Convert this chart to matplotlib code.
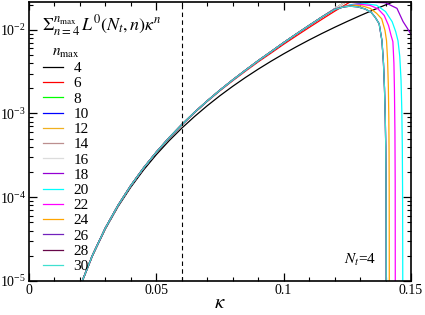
import matplotlib
matplotlib.use('Agg')
import matplotlib.pyplot as plt
from matplotlib.ticker import LogLocator, MultipleLocator, FixedLocator, FixedFormatter

plt.rcParams['font.family'] = 'serif'
plt.rcParams['font.serif'] = ['Liberation Serif', 'DejaVu Serif']
plt.rcParams['mathtext.fontset'] = 'stix'

# truncation orders and their colours (xmgrace palette)
nmax_list = [4, 6, 8, 10, 12, 14, 16, 18, 20, 22, 24, 26, 28, 30]
colors = ['#000000', '#ff0000', '#00ff00', '#0000ff', '#f0b020', '#bc8f8f',
          '#dcdcdc', '#9400d3', '#00ffff', '#ff00ff', '#ffa500', '#7221bc',
          '#670748', '#40e0d0']

# nmax = 4 (single term)
black_k = [0.021, 0.025, 0.03, 0.035, 0.04, 0.045, 0.05, 0.055, 0.06, 0.065, 0.07,
           0.075, 0.08, 0.085, 0.09, 0.095, 0.10, 0.105, 0.11, 0.115, 0.12, 0.125,
           0.13, 0.135, 0.14, 0.145]
black_v = [1.00e-5, 2.01e-5, 4.17e-5, 7.73e-5, 1.318e-4, 2.112e-4, 3.219e-4, 4.713e-4,
           6.674e-4, 9.19e-4, 1.2365e-3, 1.63e-3, 2.109e-3, 2.688e-3, 3.379e-3, 4.195e-3,
           5.15e-3, 6.26e-3, 7.54e-3, 9.01e-3, 0.01068, 0.01257, 0.01471, 0.01710,
           0.01978, 0.02277]

# common rising part (nmax >= 8)
rise_k = [0.021, 0.025, 0.03, 0.035, 0.04, 0.045, 0.05, 0.055, 0.06, 0.065, 0.07,
          0.075, 0.08, 0.085, 0.09, 0.095, 0.10, 0.105, 0.11, 0.115]
bundle_v = [1.01e-5, 2.04e-5, 4.28e-5, 8.0e-5, 1.378e-4, 2.232e-4, 3.444e-4, 5.11e-4,
            7.34e-4, 1.030e-3, 1.41e-3, 1.898e-3, 2.51e-3, 3.28e-3, 4.26e-3, 5.45e-3,
            7.0e-3, 8.89e-3, 0.01123, 0.01414]
# nmax = 6
red_v = [1.01e-5, 2.04e-5, 4.27e-5, 7.98e-5, 1.375e-4, 2.225e-4, 3.43e-4, 5.08e-4,
         7.28e-4, 1.02e-3, 1.393e-3, 1.87e-3, 2.46e-3, 3.20e-3, 4.13e-3, 5.25e-3,
         6.70e-3, 8.45e-3, 0.01063, 0.0133]
red_tail_k = [0.12, 0.125, 0.128]
red_tail_v = [0.0166, 0.0205, 0.0232]

# nmax = 8..16 leave through the top
exit_k = [0.12, 0.1235, 0.127, 0.131]
exit_v = [0.01773, 0.0208, 0.0240, 0.0275]

# nmax = 18
k18 = [0.12, 0.127, 0.134, 0.140, 0.1445, 0.1469, 0.1485, 0.150]
v18 = [0.0177, 0.0200, 0.0213, 0.0210, 0.0180, 0.0125, 0.0105, 0.0088]
# nmax = 20
k20 = [0.12, 0.126, 0.132, 0.1365, 0.140, 0.1426, 0.144, 0.1449, 0.1456, 0.1461,
       0.1464, 0.1466, 0.1467, 0.1468]
v20 = [0.0177, 0.0197, 0.0205, 0.0196, 0.0165, 0.0125, 0.0095, 0.0074, 0.0048, 0.0025,
       0.0011, 4e-4, 1.3e-4, 5e-6]
# nmax = 22
k22 = [0.12, 0.125, 0.131, 0.134, 0.137, 0.1395, 0.1412, 0.1422, 0.1429, 0.1433,
       0.1435, 0.1437, 0.1438, 0.14385]
v22 = [0.0176, 0.0192, 0.0200, 0.0195, 0.0178, 0.0148, 0.0112, 0.0085, 0.0072, 0.0040,
       0.0020, 6e-4, 1.5e-4, 5e-6]
# nmax = 24
k24 = [0.12, 0.124, 0.128, 0.131, 0.134, 0.1365, 0.1385, 0.1398, 0.1404, 0.1408,
       0.1411, 0.1413, 0.1414, 0.14145, 0.1415]
v24 = [0.0175, 0.0190, 0.0196, 0.0192, 0.0180, 0.0157, 0.0135, 0.0098, 0.0074, 0.0045,
       0.0022, 9e-4, 3.5e-4, 1.2e-4, 5e-6]
# nmax = 26, 28, 30 (practically on top of each other)
k26 = [0.12, 0.1235, 0.126, 0.129, 0.132, 0.1345, 0.136, 0.1375, 0.1386, 0.1392,
       0.1396, 0.1399, 0.1401, 0.1402, 0.14025, 0.1403]
v26 = [0.0174, 0.0187, 0.0191, 0.0188, 0.0177, 0.0160, 0.0140, 0.0118, 0.0074, 0.0040,
       0.0020, 9e-4, 4e-4, 1.5e-4, 5e-5, 5e-6]

kappa_c = 0.06

# assemble each curve
curves = []
curves.append((black_k, black_v))
curves.append((rise_k + red_tail_k, red_v + red_tail_v))
for n in [8, 10, 12, 14, 16]:
    curves.append((rise_k + exit_k, bundle_v + exit_v))
for k_tail, v_tail in [(k18, v18), (k20, v20), (k22, v22), (k24, v24),
                       (k26, v26), (k26, v26), (k26, v26)]:
    curves.append((rise_k + k_tail, bundle_v + v_tail))

fig = plt.figure(figsize=(4.25, 3.15), dpi=100)
ax = fig.add_axes([0.068, 0.108, 0.899, 0.886])

for (k, v), n, c in zip(curves, nmax_list, colors):
    ax.plot(k, v, color=c, lw=0.9, label=str(n))

ax.axvline(kappa_c, color='black', lw=0.8, ls=(0, (4, 3)))

ax.set_yscale('log')
ax.set_xlim(0, 0.15)
ax.set_ylim(1e-5, 0.0215)

ax.xaxis.set_major_locator(FixedLocator([0, 0.05, 0.1, 0.15]))
ax.xaxis.set_major_formatter(FixedFormatter(['0', '0.05', '0.1', '0.15']))
ax.xaxis.set_minor_locator(MultipleLocator(0.01))
ax.yaxis.set_major_locator(LogLocator(base=10))
ax.yaxis.set_minor_locator(LogLocator(base=10, subs=range(2, 10)))
ax.tick_params(which='both', direction='in', top=True, right=True, labelsize=10, pad=2)
ax.tick_params(which='major', length=6, width=0.9)
ax.tick_params(which='minor', length=3, width=0.8)
for s in ax.spines.values():
    s.set_linewidth(1.2)

ax.set_xlabel(r'$\kappa$', fontsize=15, labelpad=-2)

ax.text(0.034, 0.915, r'$\Sigma_{n=4}^{n_{\rm max}}\,L^0(N_t,n)\kappa^n$',
        transform=ax.transAxes, fontsize=13, va='center', ha='left')
ax.text(0.826, 0.075, r'$N_t$=4', transform=ax.transAxes, fontsize=11,
        va='center', ha='left')

leg = ax.legend(loc='upper left', bbox_to_anchor=(0.013, 0.875), frameon=False,
                title=r'$n_{\rm max}$', fontsize=11, title_fontsize=11,
                handlelength=1.3, handletextpad=0.7, labelspacing=0.1,
                borderaxespad=0.2)

fig.savefig('out.png', dpi=100)
